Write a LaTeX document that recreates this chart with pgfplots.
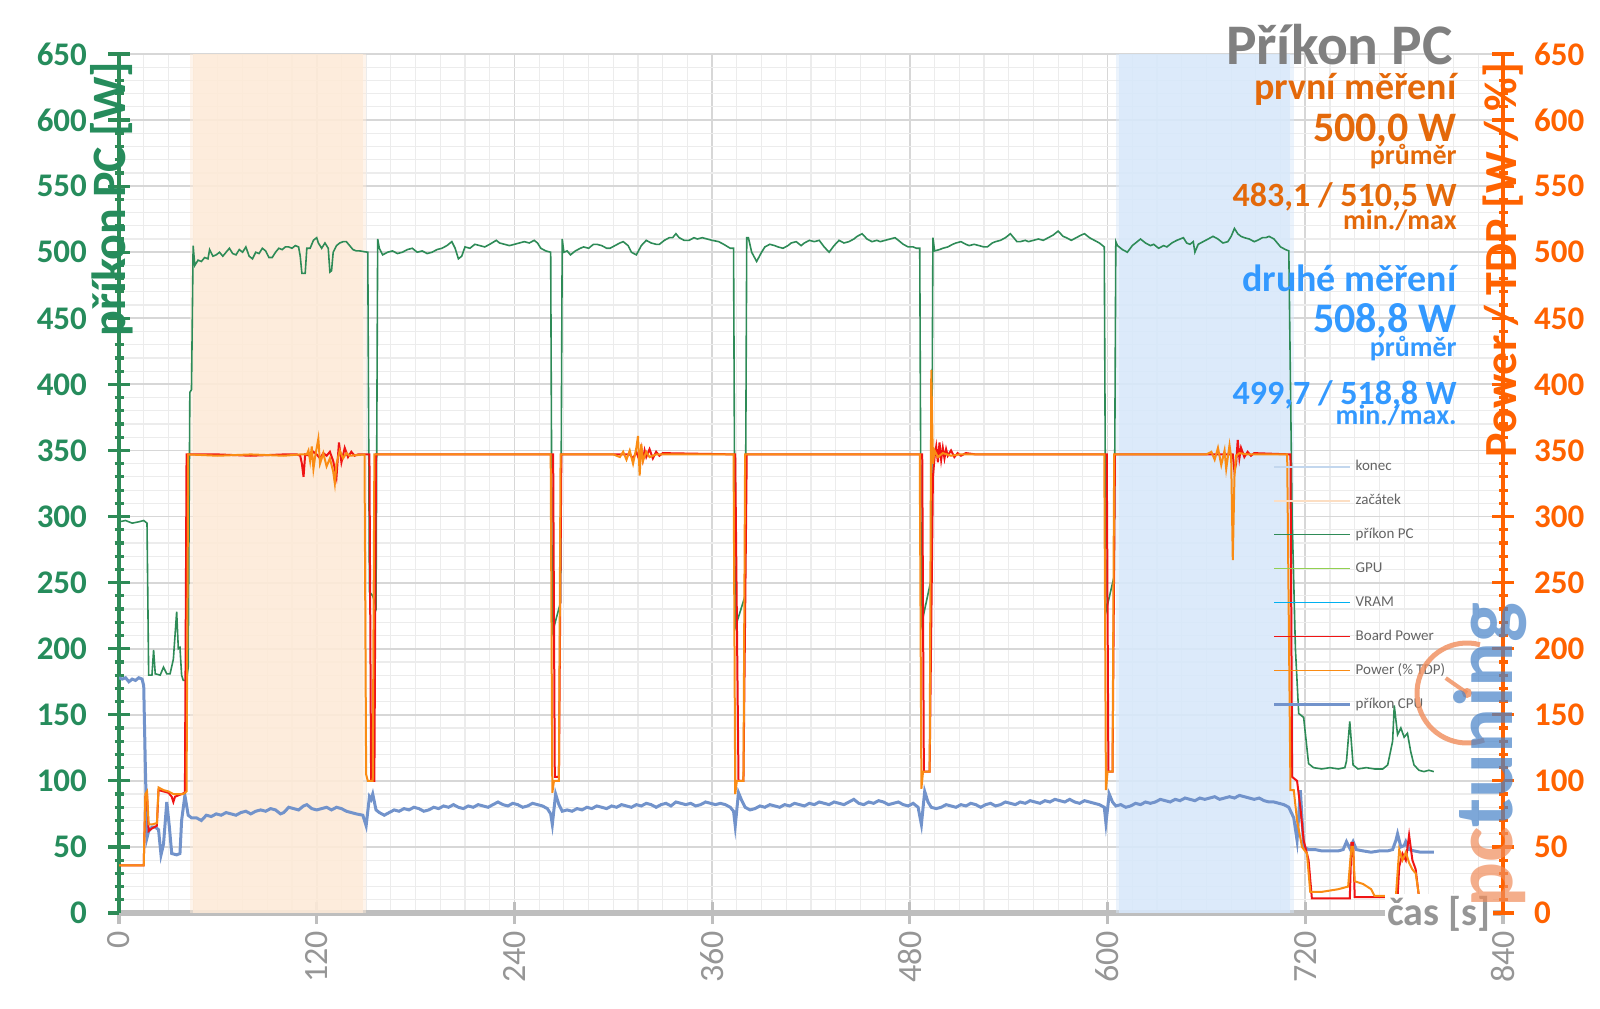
\documentclass[border=0pt]{standalone}
\usepackage{fontspec}
\setmainfont{Carlito}
\usepackage{pgfplots}
\pgfplotsset{compat=1.18}
\definecolor{gPC}{RGB}{46,139,87}
\definecolor{gTick}{RGB}{38,140,92}
\definecolor{oAx}{RGB}{255,98,0}
\definecolor{oTxt}{RGB}{228,105,10}
\definecolor{bTxt}{RGB}{51,153,255}
\definecolor{cRed}{RGB}{240,20,20}
\definecolor{cOr}{RGB}{250,140,20}
\definecolor{cCPU}{RGB}{114,147,203}
\definecolor{cGPU}{RGB}{146,208,80}
\definecolor{cVRAM}{RGB}{0,176,240}
\definecolor{cKon}{RGB}{195,215,238}
\definecolor{cZac}{RGB}{252,222,195}
\definecolor{shO}{RGB}{253,234,216}
\definecolor{shB}{RGB}{216,232,250}
\definecolor{gridMaj}{RGB}{215,215,215}
\definecolor{gridMin}{RGB}{236,236,236}
\definecolor{axGray}{RGB}{190,190,190}
\definecolor{lblGray}{RGB}{150,150,150}
\definecolor{titGray}{RGB}{128,128,128}
\definecolor{legGray}{RGB}{100,100,100}
\definecolor{wmO}{RGB}{240,140,90}
\definecolor{wmB}{RGB}{70,130,200}

\begin{document}
\begin{tikzpicture}[x=1pt,y=1pt]
\path[use as bounding box] (0pt,0pt) rectangle (800pt,504pt);
\coordinate (O) at (59.5pt,47.5pt);

\begin{axis}[
  at={(O)}, anchor=south west, scale only axis,
  width=692pt, height=429.5pt,
  xmin=0, xmax=840, ymin=0, ymax=650,
  axis x line*=bottom, axis y line*=left,
  xtick={0,120,...,840}, ytick={0,50,...,650},
  minor x tick num=7, minor y tick num=4,
  grid=both,
  major grid style={draw=gridMaj, line width=0.9pt},
  minor grid style={draw=gridMin, line width=0.6pt},
  x axis line style={draw=axGray, line width=2.6pt, -},
  y axis line style={draw=gPC, line width=2.2pt, -},
  tick align=center, major tick length=11pt, minor tick length=4.5pt,
  xtick style={draw=axGray, line width=1.6pt},
  minor x tick style={draw=none},
  ytick style={draw=gPC, line width=1.6pt},
  /pgf/number format/assume math mode=true,
  yticklabel shift=7pt,
  yticklabel style={text=gTick, font=\fontsize{16.5}{18}\selectfont\bfseries},
  xticklabel style={text=lblGray, font=\fontsize{17}{18}\selectfont, rotate=90, anchor=east},
]
% shaded regions (zacatek / konec)
\addplot[fill=shO, draw=none, fill opacity=0.5, forget plot] coordinates {(43,650)(150,650)} \closedcycle;
\addplot[fill=shO, draw=none, fill opacity=0.8, forget plot] coordinates {(45,650)(148,650)} \closedcycle;
\addplot[fill=shB, draw=none, fill opacity=0.5, forget plot] coordinates {(605,650)(713,650)} \closedcycle;
\addplot[fill=shB, draw=none, fill opacity=0.8, forget plot] coordinates {(607,650)(711,650)} \closedcycle;

% prikon PC
\addplot[gPC, line width=0.8pt, forget plot] coordinates {
(0,296)(4,297)(8,295)(12,296)(15,297)(17,295)(18,180)(20,180)(21,199)(22,181)(25,180)(27,186)(29,181)(31,181)(33,192)(34,210)(35,228)(36,200)(37,201)(38,180)(39,176)(41,176)(42,186)(43,394)(44,396)(45,505)(46,490)(48,494)(50,493)(52,496)(54,495)(55,502)(57,497)(59,498)(61,500)(63,497)(65,500)(67,503)(69,499)(71,498)(73,502)(75,500)(77,504)(79,497)(81,495)(83,500)(85,499)(87,503)(89,501)(91,496)(93,496)(95,500)(97,503)(99,502)(101,504)(103,504)(105,503)(107,505)(109,504)(110,497)(111,484)(113,484)(114,503)(116,503)(118,509)(120,511)(121,507)(123,503)(125,507)(127,503)(128,485)(129,486)(130,500)(132,505)(134,507)(136,508)(138,508)(140,505)(142,502)(144,501)(146,501)(151,500)(152,243)(154,240)(156,232)(157,510)(158,503)(160,498)(163,500)(166,501)(169,499)(172,500)(175,502)(178,503)(181,500)(184,501)(187,499)(190,500)(193,502)(196,503)(199,505)(202,508)(204,503)(206,495)(208,497)(210,504)(213,503)(216,506)(219,505)(222,504)(225,506)(229,509)(231,507)(234,506)(237,505)(240,506)(243,507)(246,508)(249,507)(252,509)(254,507)(256,503)(259,501)(262,500)(263,212)(268,235)(269,510)(270,500)(272,501)(274,498)(277,501)(280,503)(282,504)(285,503)(288,506)(290,506)(293,505)(296,503)(298,503)(301,505)(304,507)(306,508)(309,505)(311,500)(314,498)(317,505)(320,509)(323,507)(326,506)(328,506)(331,509)(334,511)(336,511)(338,514)(340,511)(343,509)(346,509)(349,511)(351,510)(354,511)(357,510)(360,509)(364,508)(367,506)(371,503)(373,503)(374,216)(380,240)(381,511)(382,511)(384,500)(387,493)(390,500)(392,504)(395,506)(398,505)(400,504)(403,503)(406,505)(408,507)(411,508)(414,505)(416,507)(419,509)(422,508)(425,509)(428,504)(431,500)(434,505)(437,509)(440,507)(443,508)(446,510)(448,512)(451,514)(454,510)(457,508)(460,509)(462,508)(465,509)(468,510)(471,511)(474,508)(476,506)(479,504)(482,504)(484,503)(486,503)(487,218)(493,253)(494,511)(495,501)(498,502)(500,503)(503,504)(506,506)(508,507)(511,508)(514,506)(516,505)(519,506)(522,505)(525,504)(527,504)(530,507)(532,508)(535,509)(538,511)(541,514)(543,511)(545,508)(547,508)(550,509)(552,508)(555,509)(558,510)(561,509)(564,511)(567,513)(570,516)(573,512)(575,511)(578,509)(581,511)(584,513)(586,514)(589,511)(592,509)(595,507)(598,504)(599,228)(604,255)(605,508)(606,505)(609,502)(612,500)(615,505)(618,508)(620,510)(623,507)(626,505)(628,506)(631,503)(634,505)(636,504)(639,507)(642,509)(644,510)(646,511)(648,507)(650,506)(652,508)(653,500)(655,506)(658,508)(661,510)(664,512)(667,510)(670,507)(673,508)(675,512)(677,518)(679,514)(681,512)(683,511)(686,510)(689,508)(691,509)(694,511)(696,511)(698,512)(701,510)(703,507)(705,504)(708,502)(710,501)(712,300)(714,200)(716,151)(719,148)(722,113)(725,110)(730,109)(735,110)(740,109)(744,110)(745,115)(747,145)(749,112)(752,109)(757,110)(762,109)(767,109)(770,112)(773,130)(774,157)(776,135)(778,140)(780,133)(782,136)(784,122)(786,112)(789,108)(792,107)(795,108)(798,107)
};

% prikon CPU
\addplot[cCPU, line width=1.5pt, forget plot] coordinates {
(0,178)(2,177)(4,178)(6,175)(8,177)(10,176)(12,178)(14,177)(15,172)(16,110)(17,57)(18,62)(20,65)(22,65)(24,63)(25.5,44)(27,52)(29,84)(30.5,66)(32,45)(35,44)(37,45)(38,70)(40,89)(42,74)(44,72)(47,72)(50,70)(53,74)(56,73)(59,75)(62,74)(65,76)(68,75)(71,74)(74,76)(77,77)(80,75)(83,77)(86,78)(89,77)(92,79)(95,78)(98,75)(100,76)(103,80)(106,79)(109,78)(112,81)(114,82)(117,79)(120,78)(123,79)(126,80)(129,78)(132,80)(135,79)(138,77)(141,76)(144,75)(148,74)(150,66)(152,88)(153,86)(154,90)(156,78)(158,76)(161,74)(164,76)(167,78)(170,77)(173,79)(176,78)(179,80)(182,79)(185,77)(188,78)(191,80)(194,79)(197,81)(200,80)(203,82)(206,80)(209,79)(212,81)(215,80)(218,82)(221,81)(224,80)(227,82)(230,84)(233,82)(236,81)(239,83)(242,82)(245,80)(248,81)(251,83)(254,82)(257,81)(260,79)(262,75)(263,67)(265,90)(267,82)(269,77)(272,78)(275,77)(278,79)(281,78)(284,80)(287,79)(290,81)(293,80)(296,79)(299,81)(302,80)(305,82)(308,81)(311,80)(314,82)(317,81)(320,83)(323,82)(326,80)(329,82)(332,83)(335,81)(338,84)(341,83)(344,82)(347,83)(350,81)(353,82)(356,84)(359,83)(362,82)(365,83)(368,82)(371,80)(373,77)(374,66)(376,91)(378,85)(380,80)(383,78)(386,79)(389,81)(392,80)(395,82)(398,81)(401,80)(404,82)(407,81)(410,83)(413,82)(416,81)(419,83)(422,82)(425,84)(428,83)(431,82)(434,84)(437,83)(440,82)(443,84)(446,86)(449,83)(452,82)(455,84)(458,83)(461,85)(464,84)(467,82)(470,83)(473,84)(476,82)(479,81)(482,83)(485,80)(487,67)(489,92)(491,84)(493,80)(496,79)(499,80)(502,82)(505,81)(508,80)(511,82)(514,81)(517,83)(520,82)(523,80)(526,82)(529,83)(532,81)(535,82)(538,84)(541,83)(544,82)(547,84)(550,83)(553,85)(556,84)(559,83)(562,85)(565,84)(568,86)(571,85)(574,84)(577,86)(580,84)(583,83)(586,85)(589,84)(592,83)(595,82)(598,80)(599,68)(601,90)(603,84)(605,81)(608,82)(611,80)(614,81)(617,83)(620,82)(623,84)(626,83)(629,84)(632,86)(635,85)(638,84)(641,86)(644,85)(647,87)(650,86)(653,85)(656,87)(659,86)(662,87)(665,88)(668,86)(671,87)(674,88)(677,87)(680,89)(683,88)(686,87)(689,86)(692,87)(695,85)(698,84)(701,84)(704,83)(707,82)(710,80)(713,72)(715,55)(717,93)(719,50)(722,48)(726,48)(730,47)(735,47)(740,47)(743,48)(745,54)(747,49)(749,54)(751,48)(755,47)(760,46)(765,47)(770,47)(773,48)(775,55)(776,60)(778,50)(780,51)(781,54)(783,48)(786,47)(790,46)(794,46)(798,46)
};
\end{axis}

\begin{axis}[
  at={(O)}, anchor=south west, scale only axis,
  width=692pt, height=429.5pt,
  xmin=0, xmax=840, ymin=0, ymax=650,
  axis x line=none, axis y line*=right,
  ytick={0,50,...,650}, minor y tick num=4,
  y axis line style={draw=oAx, line width=2.2pt, -},
  tick align=center, major tick length=11pt, minor tick length=4.5pt,
  ytick style={draw=oAx, line width=1.6pt},
  /pgf/number format/assume math mode=true,
  yticklabel shift=6.5pt,
  yticklabel style={text=oAx, font=\fontsize{16.5}{18}\selectfont\bfseries},
  legend style={at={(0.829,0.533)}, anchor=north west, draw=none, fill=none,
    font=\fontsize{7.5}{8}\selectfont, text=legGray, row sep=10pt,
    nodes={inner sep=0pt, text height=5.5pt, text depth=1.5pt},
    /tikz/every odd column/.append style={column sep=2pt}},
  legend cell align=left,
  legend image code/.code={\draw[#1] (0pt,0pt) -- (38pt,0pt);},
]
% Board Power
\addplot[cRed, line width=1pt, forget plot] coordinates {
(0,36)(15,36)(16,88)(17,90)(18,62)(20,64)(23,66)(24,93)(27,92)(30,91)(32,88)(33,84)(34,88)(36,89)(38,90)(40,91)(41,347)(60,347)(80,346)(100,347)(108,347)(110,346)(111,340)(112,330)(113,347)(116,346)(118,349)(120,347)(122,344)(124,348)(126,346)(128,349)(130,342)(132,330)(133.5,356)(135,341)(137,352)(139,345)(141,349)(143,346)(145,347)(152,347)(153,100)(155,100)(156,347)(200,347)(263.5,347)(264.5,103)(267,103)(268.5,347)(310,347)(312,344)(314,349)(316,342)(317,351)(318,343)(319,350)(320,345)(322,351)(324,344)(326,349)(328,346)(330,348)(374,347)(376,100)(379,100)(381,347)(487.5,347)(488.5,107)(492,107)(494,330)(495,345)(496,353)(497,341)(498,356)(499,343)(500,352)(501,344)(502,351)(503,346)(505,350)(507,345)(509,348)(511,346)(514,348)(520,347)(599.5,347)(600.5,107)(603,107)(604.5,347)(676,347)(677,334)(678,340)(679,358)(680,344)(681,352)(683,345)(685,349)(687,346)(689,348)(711,347)(712,103)(715,100)(717,80)(719,55)(722,40)(724,11)(740,11)(747,11)(748,53)(749,53)(750,12)(770,12)(776,12)(777,35)(779,45)(781,40)(783,59)(785,40)(787,33)(789,12)(798,12)
};
% Power (% TDP)
\addplot[cOr, line width=1pt, forget plot] coordinates {
(0,36)(15,36)(16,90)(17,92)(18,67)(20,67)(23,68)(24,95)(27,93)(30,92)(33,90)(36,90)(39,90)(41,92)(42,347)(60,346)(80,347)(100,346)(110,347)(114,347)(115,350)(116,342)(117,353)(118,336)(119,345)(121,359)(122,340)(124,348)(126,338)(128,344)(130,334)(131,325)(132,340)(134,350)(136,344)(138,348)(140,346)(149,347)(150,105)(151,100)(154,100)(155,347)(262,347)(263,91)(264,100)(267,100)(268,347)(300,347)(304,345)(306,349)(308,343)(310,350)(312,340)(314,352)(315,361)(316,331)(317,355)(318,342)(320,349)(322,345)(326,347)(373,347)(374,90)(375,100)(379,100)(380,347)(486,347)(487,94)(488,107)(492,107)(493,411)(494,340)(495,350)(497,345)(500,348)(505,346)(510,347)(598,347)(599,93)(600,107)(603,107)(604,347)(660,347)(663,349)(665,343)(667,352)(669,339)(671,350)(672,336)(674,354)(675,345)(676,267)(677,330)(678,346)(680,348)(685,347)(709,347)(711,93)(713,93)(715,70)(718,50)(721,45)(723,16)(730,16)(740,18)(746,20)(748,50)(749,50)(750,24)(755,22)(760,18)(762,13)(770,13)(775,13)(777,48)(779,40)(781,46)(783,38)(785,33)(787,30)(789,13)(798,13)
};
\addlegendimage{cKon, line width=1pt}
\addlegendimage{cZac, line width=1pt}
\addlegendimage{gPC, line width=0.9pt}
\addlegendimage{cGPU, line width=0.9pt}
\addlegendimage{cVRAM, line width=0.9pt}
\addlegendimage{cRed, line width=0.9pt}
\addlegendimage{cOr, line width=0.9pt}
\addlegendimage{cCPU, line width=1.5pt}
\legend{konec, začátek, příkon PC, GPU, VRAM, Board Power, Power (\% TDP), příkon CPU}
\end{axis}

% axis labels
\node[rotate=90, text=gTick, font=\fontsize{24}{26}\selectfont\bfseries] at (56pt,404.5pt) {příkon PC [W]};
\node[rotate=90, text=oAx, font=\fontsize{23}{25}\selectfont\bfseries] at (751.5pt,374pt) {Power / TDP [W / \%]};
\node[anchor=base east, text=lblGray, fill=white, inner sep=1pt, font=\fontsize{20}{22}\selectfont\bfseries] at (746.5pt,41.5pt) {čas [s]};

% title and annotations
\node[anchor=base east, inner sep=0pt, text=titGray, font=\fontsize{28.7}{30}\selectfont\bfseries] at (726.5pt,471.5pt) {Příkon PC};
\node[anchor=base east, inner sep=0pt, text=oTxt, font=\fontsize{19}{20}\selectfont\bfseries] at (728.5pt,454pt) {první měření};
\node[anchor=base east, inner sep=0pt, text=oTxt, font=\fontsize{21}{22}\selectfont\bfseries] at (728.5pt,433pt) {500,0 W};
\node[anchor=base east, inner sep=0pt, text=oTxt, font=\fontsize{14}{15}\selectfont\bfseries] at (728.5pt,421.5pt) {průměr};
\node[anchor=base east, inner sep=0pt, text=oTxt, font=\fontsize{17}{18}\selectfont\bfseries] at (728.5pt,400.5pt) {483,1 / 510,5 W};
\node[anchor=base east, inner sep=0pt, text=oTxt, font=\fontsize{14}{15}\selectfont\bfseries] at (728.5pt,389pt) {min./max};
\node[anchor=base east, inner sep=0pt, text=bTxt, font=\fontsize{19}{20}\selectfont\bfseries] at (728.5pt,358pt) {druhé měření};
\node[anchor=base east, inner sep=0pt, text=bTxt, font=\fontsize{21}{22}\selectfont\bfseries] at (728.5pt,337.5pt) {508,8 W};
\node[anchor=base east, inner sep=0pt, text=bTxt, font=\fontsize{14}{15}\selectfont\bfseries] at (728.5pt,325.5pt) {průměr};
\node[anchor=base east, inner sep=0pt, text=bTxt, font=\fontsize{17}{18}\selectfont\bfseries] at (728.5pt,301.5pt) {499,7 / 518,8 W};
\node[anchor=base east, inner sep=0pt, text=bTxt, font=\fontsize{14}{15}\selectfont\bfseries] at (728.5pt,291.5pt) {min./max.};

% watermark
\draw[wmO, line width=2.5pt, opacity=0.8] (733.5pt,157.5pt) ++(75:25pt) arc[start angle=75, end angle=290, radius=25pt];
\draw[wmO, line width=2pt, opacity=0.8] (733.5pt,157.5pt) -- ++(145:13pt);
\fill[wmO, opacity=0.8] (733.5pt,157.5pt) circle (2.5pt);
\node[rotate=90, opacity=0.7, font=\fontsize{42}{44}\selectfont\bfseries] at (745pt,126.5pt) {\textcolor{wmO}{pc}\textcolor{wmB}{tuning}};
\end{tikzpicture}
\end{document}
